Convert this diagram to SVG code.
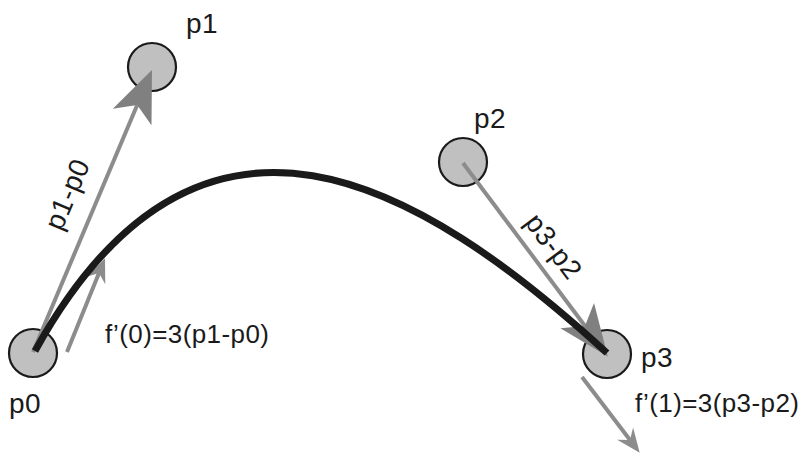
<svg xmlns="http://www.w3.org/2000/svg" width="800" height="453" viewBox="0 0 800 453">
<style>
.node{fill:#c0c0c0;stroke:#1a1a1a;stroke-width:2.2}
.lbl{font-family:"Liberation Sans",Arial,sans-serif;font-size:28px;fill:#1a1a1a;letter-spacing:0.5px}
.eq{font-family:"Liberation Sans",Arial,sans-serif;font-size:26px;fill:#1a1a1a;letter-spacing:0.4px}
.vec{stroke:#8c8c8c;stroke-width:4;fill:none}
.curve{stroke:#1a1a1a;stroke-width:7;fill:none}
</style>
<defs>
<marker id="big" markerUnits="userSpaceOnUse" orient="auto" refX="0" refY="0" markerWidth="100" markerHeight="100" overflow="visible">
<path d="M38,0 L-13,-21 L0,0 L-13,21 Z" fill="#808080"/>
</marker>
<marker id="small" markerUnits="userSpaceOnUse" orient="auto" refX="0" refY="0" markerWidth="60" markerHeight="60" overflow="visible">
<path d="M16,0 L-8,-10 L0,0 L-8,10 Z" fill="#8c8c8c"/>
</marker>
</defs>
<g id="p0"><circle class="node" cx="33" cy="353" r="24"/><text class="lbl" x="9" y="413">p0</text></g>
<g id="p1"><circle class="node" cx="152" cy="67" r="24"/><text class="lbl" x="186" y="33">p1</text></g>
<g id="p2"><circle class="node" cx="463" cy="162" r="24"/><text class="lbl" x="474" y="128">p2</text></g>
<g id="p3"><circle class="node" cx="607" cy="354" r="24"/><text class="lbl" x="641" y="367">p3</text></g>
<g id="connectors">
<line class="vec" x1="33" y1="352" x2="137.2" y2="105" marker-end="url(#big)"/>
<line class="vec" x1="463" y1="163" x2="585" y2="326" marker-end="url(#big)"/>
<line class="vec" x1="67" y1="352" x2="99" y2="273" marker-end="url(#small)"/>
<line class="vec" x1="582" y1="377" x2="630" y2="440" marker-end="url(#small)"/>
<path class="curve" d="M35,351 C200,52 420,182 607,353"/>
<text class="lbl" x="0" y="0" text-anchor="middle" transform="translate(76,198) rotate(-67)">p1-p0</text>
<text class="lbl" x="0" y="0" text-anchor="middle" transform="translate(546,252) rotate(53)">p3-p2</text>
<text class="eq" x="105" y="343">f’(0)=3(p1-p0)</text>
<text class="eq" x="635" y="412">f’(1)=3(p3-p2)</text>
</g>
</svg>
